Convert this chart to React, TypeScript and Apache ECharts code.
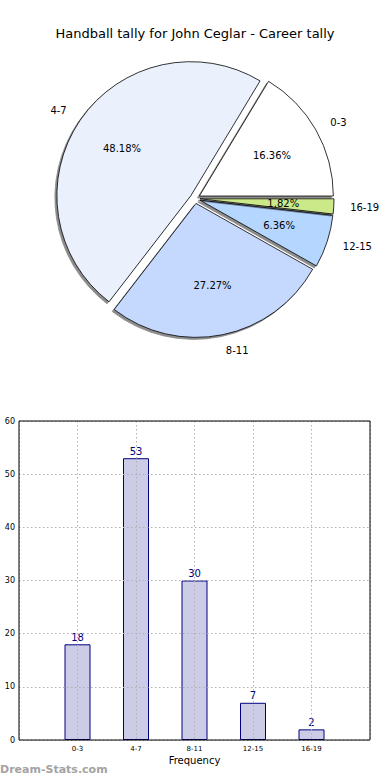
import React, { useEffect, useRef } from "react";
import * as echarts from "echarts";

const title = "Handball tally for John Ceglar - Career tally";
const categories = ["0-3", "4-7", "8-11", "12-15", "16-19"];
const counts = [18, 53, 30, 7, 2];
const sliceColors = ["#ffffff", "#eaf1fd", "#c5d9fe", "#b5d6fe", "#cce98a"];
const yTicks = [0, 10, 20, 30, 40, 50, 60];
const xName = "Frequency";
const watermark = "Dream-Stats.com";

const FONT = "DejaVu Sans";

export default function App() {
  const ref = useRef<HTMLDivElement>(null);
  useEffect(() => {
    if (!ref.current) return;
    const chart = echarts.init(ref.current, null, { renderer: "svg" });
    const total = counts.reduce((a, b) => a + b, 0);
    // mid angles (deg) going counter-clockwise from 3 o'clock
    const mids: number[] = [];
    let acc = 0;
    counts.forEach((c) => {
      const a0 = (acc / total) * 360;
      acc += c;
      const a1 = (acc / total) * 360;
      mids.push((a0 + a1) / 2);
    });
    const cx = 195;
    const cy = 198.5;
    const R = 134;
    const offset = 5;

    const baseData = categories.map((name, i) => ({
      name,
      value: counts[i],
      selected: true,
    }));

    const pieCommon = {
      type: "pie",
      center: [cx, cy],
      startAngle: 0,
      clockwise: false,
      selectedMode: "multiple",
      selectedOffset: offset,
      avoidLabelOverlap: false,
      emphasis: { disabled: true },
      labelLine: { show: false },
    };

    const option: any = {
      animation: false,
      textStyle: { fontFamily: FONT },
      title: {
        text: title,
        left: "center",
        top: 22,
        textStyle: { fontFamily: FONT, fontSize: 13, fontWeight: "normal", color: "#000" },
      },
      graphic: [
        {
          type: "text",
          left: 0,
          top: 764,
          style: {
            text: watermark,
            fill: "#a3a3a3",
            font: `bold 11px "${FONT}"`,
          },
        },
      ],
      grid: {
        left: 19,
        right: 20,
        top: 421,
        bottom: 40,
        show: true,
        borderColor: "#000",
        borderWidth: 1,
        z: 4,
      },
      xAxis: {
        type: "value",
        min: -1,
        max: categories.length,
        interval: 1,
        z: 3,
        name: xName,
        nameLocation: "middle",
        nameGap: 15,
        nameTextStyle: { fontFamily: FONT, fontSize: 10, color: "#000" },
        axisLine: { show: false },
        axisTick: { show: false },
        axisLabel: {
          fontFamily: FONT,
          fontSize: 7,
          color: "#000",
          margin: 5,
          formatter: (v: number) => categories[v] ?? "",
        },
        splitLine: { show: true, lineStyle: { color: "#b0b0b0", type: [1.5, 2.5], width: 1 } },
      },
      yAxis: {
        type: "value",
        min: yTicks[0],
        max: yTicks[yTicks.length - 1],
        interval: 10,
        z: 3,
        axisLine: { show: false },
        axisTick: { show: false },
        axisLabel: { fontFamily: FONT, fontSize: 8, color: "#000", margin: 4 },
        splitLine: { show: true, lineStyle: { color: "#b0b0b0", type: [1.5, 2.5], width: 1 } },
      },
      series: [
        {
          ...pieCommon,
          radius: [0, R],
          label: { show: false },
          data: baseData.map((d, i) => ({
            ...d,
            itemStyle: {
              color: sliceColors[i],
              borderColor: "#000",
              borderWidth: 0.8,
              shadowColor: "rgba(0,0,0,0.45)",
              shadowBlur: 0,
              shadowOffsetX: -2,
              shadowOffsetY: 2,
            },
          })),
        },
        {
          ...pieCommon,
          silent: true,
          radius: [0, R * 1.2],
          itemStyle: { color: "rgba(0,0,0,0)", borderWidth: 0 },
          label: {
            show: true,
            position: "inside",
            fontFamily: FONT,
            fontSize: 10,
            color: "#000",
            formatter: (p: any) => ((p.value / total) * 100).toFixed(2) + "%",
          },
          data: baseData,
        },
        {
          ...pieCommon,
          silent: true,
          radius: [0, R * 2.2],
          itemStyle: { color: "rgba(0,0,0,0)", borderWidth: 0 },
          label: {
            show: true,
            position: "inside",
            fontFamily: FONT,
            fontSize: 10,
            color: "#000",
            formatter: (p: any) => p.name,
          },
          labelLayout: (p: any) => ({
            align: Math.cos((mids[p.dataIndex] * Math.PI) / 180) >= 0 ? "left" : "right",
          }),
          data: baseData,
        },
        {
          type: "bar",
          barWidth: 26,
          data: counts.map((v, i) => [i, v]),
          itemStyle: { color: "#ccccE6", borderColor: "#000080", borderWidth: 1 },
          label: {
            show: true,
            position: "top",
            distance: 2,
            fontFamily: FONT,
            fontSize: 10,
            color: "#000080",
            formatter: (p: any) => String(p.value[1]),
          },
        },
      ],
    };
    chart.setOption(option);
    return () => chart.dispose();
  }, []);
  return (
    <div
      ref={ref}
      style={{ position: "fixed", left: 0, top: 0, width: 390, height: 780, background: "#fff" }}
    />
  );
}
